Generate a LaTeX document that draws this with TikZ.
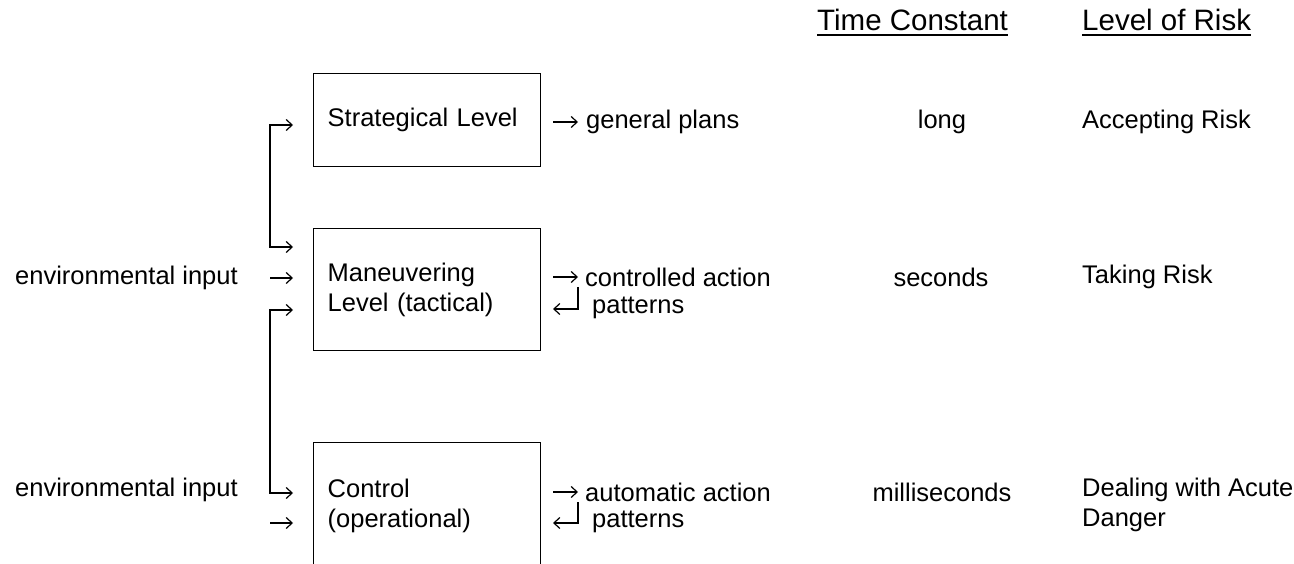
\documentclass[tikz,border=0pt]{standalone}
\usepackage{fontspec}
\setmainfont{Liberation Sans}
\usetikzlibrary{arrows.meta}
\begin{document}
\begin{tikzpicture}[x=1pt,y=-1pt,
  lvl/.style={draw,line width=1.4pt,anchor=north west,inner ysep=0pt,inner xsep=14pt,
    minimum width=227pt,text width=199pt,align=left,
    font=\fontsize{25.5}{30.5}\selectfont},
  txt/.style={inner sep=0pt,anchor=west,font=\fontsize{25.5}{30.5}\selectfont},
  ctxt/.style={inner sep=0pt,anchor=center,font=\fontsize{25.5}{30.5}\selectfont},
  hdr/.style={inner sep=0pt,anchor=base west,font=\fontsize{29.5}{34}\selectfont},
  arr/.style={line width=1.2pt,-{Straight Barb[length=6pt,width=11pt]}},
  darr/.style={line width=1.2pt,{Straight Barb[length=6pt,width=11pt]}-{Straight Barb[length=6pt,width=11pt]}},
  uline/.style={line width=1.5pt}
]
\useasboundingbox (0,0) rectangle (1294,564);
\clip (0,0) rectangle (1294,564);

% level boxes
\node[lvl,minimum height=93pt] (S) at (313,73) {Strategical Level};
\node[lvl,minimum height=122pt] (M) at (313,228) {Maneuvering\\Level (tactical)};
\node[lvl,minimum height=126pt] (C) at (313,442) {Control\\(operational)};

% left side inputs
\node[txt] (env1) at (15,278) {environmental input};
\node[txt] (env2) at (15,490) {environmental input};

\coordinate (s1) at (293,125);
\coordinate (s1c) at (270,125);
\coordinate (m1c) at (270,247);
\coordinate (m1) at (293,247);
\coordinate (m2a) at (270,278);
\coordinate (m2) at (293,278);
\coordinate (m3) at (293,310);
\coordinate (m3c) at (270,310);
\coordinate (c1c) at (270,493);
\coordinate (c1) at (293,493);
\coordinate (c2a) at (270,523);
\coordinate (c2) at (293,523);

\draw[darr] (s1) -- (s1c) -- (m1c) -- (m1);
\draw[arr] (m2a) -- (m2);
\draw[darr] (m3) -- (m3c) -- (c1c) -- (c1);
\draw[arr] (c2a) -- (c2);

% right side outputs
\coordinate (so0) at (553,122);
\coordinate (so1) at (578,122);
\node[txt] (gp) at (586,122) {general plans};
\draw[arr] (so0) -- (so1);

\coordinate (mo0) at (553,277);
\coordinate (mo1) at (578,277);
\coordinate (mh0) at (578,287);
\coordinate (mh1) at (578,309);
\coordinate (mh2) at (553,309);
\node[txt] (cap) at (585,277) {controlled action};
\node[txt] (cp) at (592,308) {patterns};
\draw[arr] (mo0) -- (mo1);
\draw[arr] (mh0) -- (mh1) -- (mh2);

\coordinate (co0) at (553,492);
\coordinate (co1) at (578,492);
\coordinate (ch0) at (578,502);
\coordinate (ch1) at (578,523);
\coordinate (ch2) at (553,523);
\node[txt] (aap) at (585,492) {automatic action};
\node[txt] (ap) at (592,522) {patterns};
\draw[arr] (co0) -- (co1);
\draw[arr] (ch0) -- (ch1) -- (ch2);

% headers
\node[hdr] (tc) at (817,31) {Time Constant};
\node[hdr] (lr) at (1082,31) {Level of Risk};
\draw[uline] ([yshift=-4pt]tc.base west) -- ([yshift=-4pt]tc.base east);
\draw[uline] ([yshift=-4pt]lr.base west) -- ([yshift=-4pt]lr.base east);

% time constants
\node[ctxt] (t1) at (942,122) {long};
\node[ctxt] (t2) at (941,277) {seconds};
\node[ctxt] (t3) at (942,492) {milliseconds};

% risk levels
\node[txt] (r1) at (1082,122) {Accepting Risk};
\node[txt] (r2) at (1082,277) {Taking Risk};
\node[txt,align=left] (r3) at (1082,505) {Dealing with Acute\\Danger};
\end{tikzpicture}
\end{document}
